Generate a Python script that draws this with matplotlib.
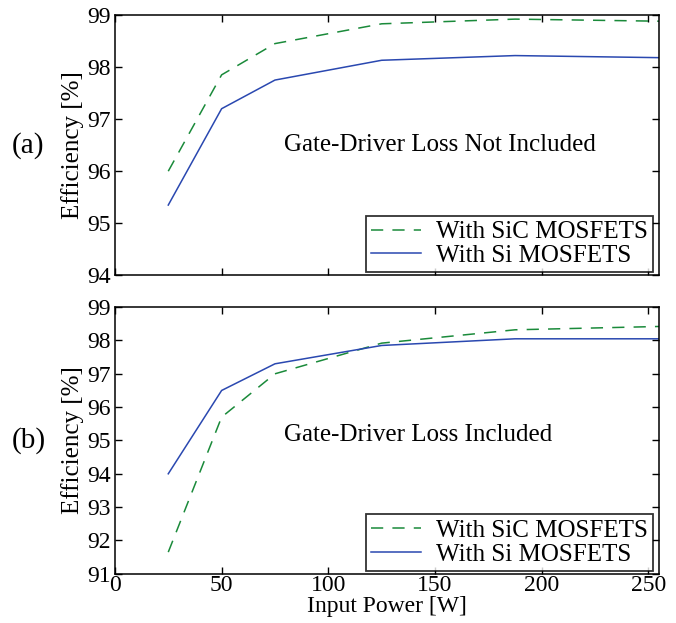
import matplotlib
matplotlib.use('Agg')
import matplotlib.pyplot as plt

plt.rcParams['font.family'] = ['Liberation Serif', 'DejaVu Serif']
plt.rcParams['mathtext.fontset'] = 'stix'

# input power [W]
power = [25, 50, 75, 125, 187.5, 255]

# (a) gate-driver loss not included
sic_a = [96.0, 97.85, 98.45, 98.83, 98.92, 98.88]
si_a = [95.35, 97.2, 97.75, 98.13, 98.22, 98.18]

# (b) gate-driver loss included
sic_b = [91.65, 95.7, 97.0, 97.92, 98.32, 98.42]
si_b = [94.0, 96.5, 97.3, 97.85, 98.05, 98.05]

green = '#1a8a3a'
blue = '#2a48b0'

fig = plt.figure(figsize=(6.76, 6.23), dpi=100)
ax1 = fig.add_axes([0.170, 0.558, 0.805, 0.418])
ax2 = fig.add_axes([0.170, 0.079, 0.805, 0.428])

panels = [
    (ax1, sic_a, si_a, (94, 99), 'Gate-Driver Loss Not Included', '(a)', 0.50),
    (ax2, sic_b, si_b, (91, 99), 'Gate-Driver Loss Included', '(b)', 0.52),
]

for ax, sic, si, ylim, note, tag, ny in panels:
    ax.plot(power, sic, '--', color=green, lw=1.1, dashes=(8, 6), label='With SiC MOSFETS')
    ax.plot(power, si, '-', color=blue, lw=1.1, label='With Si MOSFETS')
    ax.set_xlim(0, 255)
    ax.set_ylim(*ylim)
    ax.set_yticks(range(ylim[0], ylim[1] + 1))
    ax.set_xticks([0, 50, 100, 150, 200, 250])
    ax.tick_params(direction='in', top=True, right=True, labelsize=17, length=5, width=1, pad=3)
    ax.tick_params(axis='x', pad=1)
    for s in ax.spines.values():
        s.set_linewidth(1.1)
    ax.set_ylabel('Efficiency [%]', fontsize=18, labelpad=2)
    ax.text(0.31, ny, note, transform=ax.transAxes, fontsize=18, va='center')
    ax.text(-0.19, 0.5, tag, transform=ax.transAxes, fontsize=21, va='center', ha='left')
    leg = ax.legend(loc='lower right', fontsize=18, frameon=True, fancybox=False,
                    bbox_to_anchor=(0.988, 0.012), borderaxespad=0.0, handlelength=2.0,
                    borderpad=0.2, labelspacing=0.05, handletextpad=0.6)
    leg.get_frame().set_edgecolor('black')
    leg.get_frame().set_linewidth(1.3)

ax1.tick_params(labelbottom=False)
ax2.set_xlabel('Input Power [W]', fontsize=17, labelpad=0)

fig.savefig('out.png', dpi=100)
